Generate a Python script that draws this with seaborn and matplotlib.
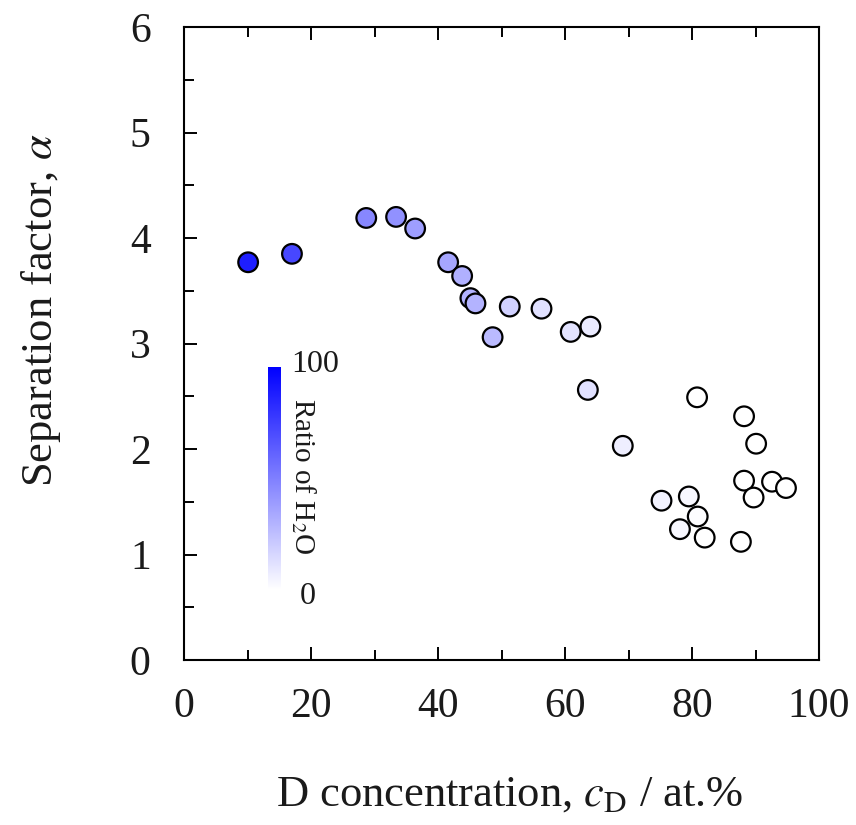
import numpy as np
import pandas as pd
import matplotlib
matplotlib.use("Agg")
import matplotlib.pyplot as plt
from matplotlib.colors import LinearSegmentedColormap, Normalize
from matplotlib.cm import ScalarMappable
from matplotlib.ticker import MultipleLocator
import seaborn as sns

# ---- data ----
d_conc = [10.1, 17.0, 28.7, 33.4, 36.4, 41.6, 43.8, 45.1, 45.9, 48.6,
          51.3, 56.3, 60.9, 64.0, 63.6, 69.1, 75.2, 78.1, 79.5, 80.9,
          80.8, 82.0, 88.2, 90.1, 88.2, 89.7, 92.6, 94.8, 87.7]
sep_factor = [3.77, 3.85, 4.19, 4.20, 4.09, 3.77, 3.64, 3.43, 3.38, 3.06,
              3.35, 3.33, 3.11, 3.16, 2.56, 2.03, 1.51, 1.24, 1.55, 1.36,
              2.49, 1.16, 2.31, 2.05, 1.70, 1.54, 1.69, 1.63, 1.12]
h2o_ratio = [88, 72, 47, 43, 38, 35, 31, 30, 30, 27,
             18, 12, 11, 8, 12, 7, 5, 3, 3, 1,
             0, 0, 0, 0, 0, 0, 0, 0, 0]
x_ticks = [0, 20, 40, 60, 80, 100]
y_ticks = [0, 1, 2, 3, 4, 5, 6]

df = pd.DataFrame({"cD": d_conc, "alpha": sep_factor, "h2o": h2o_ratio})

sns.set_theme(style="white")
plt.rcParams["font.family"] = ["Liberation Serif", "DejaVu Serif"]
plt.rcParams["mathtext.fontset"] = "stix"

cmap = LinearSegmentedColormap.from_list("wb", ["#ffffff", "#0000ff"])
norm = Normalize(0, 100)

fig = plt.figure(figsize=(8.56, 8.25), dpi=100)
ax = fig.add_axes([184 / 856, 1 - 660 / 825, (819 - 184) / 856, (660 - 27) / 825])

sns.scatterplot(data=df, x="cD", y="alpha", hue="h2o", palette=cmap, hue_norm=norm,
                s=200, edgecolor="black", linewidth=1.6, legend=False, ax=ax, zorder=3)

ax.set_xlim(0, 100)
ax.set_ylim(0, 6)
ax.set_xticks(x_ticks)
ax.set_yticks(y_ticks)
ax.xaxis.set_minor_locator(MultipleLocator(10))
ax.yaxis.set_minor_locator(MultipleLocator(0.5))
ax.tick_params(which="both", direction="in", top=True, right=False, bottom=True, left=True,
               width=1.4, color="black", labelsize=30, labelcolor="#1a1a1a")
ax.tick_params(which="major", length=9.5)
ax.tick_params(which="minor", length=7)
ax.tick_params(axis="x", which="major", pad=20)
ax.tick_params(axis="y", which="major", pad=24)
for sp in ax.spines.values():
    sp.set_visible(True)
    sp.set_color("black")
    sp.set_linewidth(1.5)

ax.set_xlabel("D concentration, $c_\\mathrm{D}$ / at.%", fontsize=32, labelpad=35, color="#1a1a1a")
ax.set_ylabel("Separation factor, $\\alpha$", fontsize=32, labelpad=48, color="#1a1a1a")
ax.xaxis.label.set_x(0.513)
ax.yaxis.label.set_y(0.553)

# inset colour bar
cax = fig.add_axes([268 / 856, 1 - 590 / 825, 13 / 856, (590 - 367) / 825])
sm = ScalarMappable(norm=norm, cmap=cmap)
cb = fig.colorbar(sm, cax=cax)
cb.outline.set_visible(False)
cb.set_ticks([])
fig.text(291 / 856, 1 - 365 / 825, "100", fontsize=23, va="center", ha="left", color="#1a1a1a")
fig.text(300 / 856, 1 - 596 / 825, "0", fontsize=23, va="center", ha="left", color="#1a1a1a")
fig.text(303 / 856, 1 - 476 / 825, "Ratio of H$_2$O", fontsize=21, rotation=270,
         va="center", ha="center", color="#1a1a1a")

fig.savefig("out.png", dpi=100)
